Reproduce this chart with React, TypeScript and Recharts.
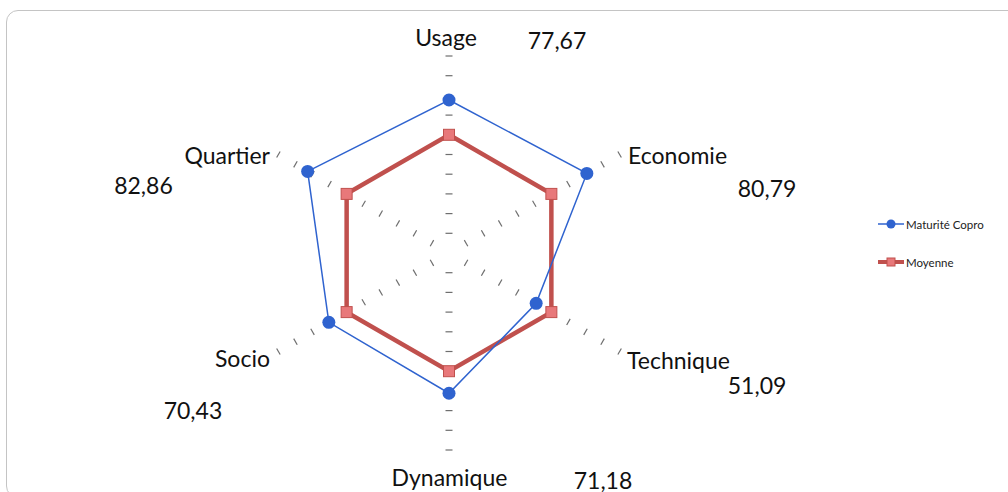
import React from "react";
import {
  RadarChart,
  Radar,
  PolarAngleAxis,
  PolarRadiusAxis,
  Legend,
} from "recharts";

const axes = ["Usage", "Economie", "Technique", "Dynamique", "Socio", "Quartier"];
const maturite = [77.67, 80.79, 51.09, 71.18, 70.43, 82.86];
const moyenne = [60, 60, 60, 60, 60, 60];
const valueLabels = ["77,67", "80,79", "51,09", "71,18", "70,43", "82,86"];

const data = axes.map((axe, i) => ({
  axe,
  maturite: maturite[i],
  moyenne: moyenne[i],
}));

const BLUE = "#2f63cf";
const RED = "#c0504d";
const FONT = "Lato, 'Liberation Sans', sans-serif";

// label offset (from the angle-axis tick point) and value text offset
const labelOffset: [number, number][] = [
  [-3, -11],
  [1.5, 4.5],
  [0.5, 4.5],
  [0.5, 19],
  [-1.5, 2.5],
  [-1.5, 4.5],
];
const valueOffset: [number, number][] = [
  [108, -8],
  [140.5, 37.5],
  [130.5, 29.5],
  [154, 22],
  [-78.5, 54.5],
  [-128, 34.5],
];

const spokeAngles = [90, 30, -30, -90, -150, 150];

function AngleTick(props: any) {
  const { x, y, payload, textAnchor, index } = props;
  const [lx, ly] = labelOffset[index] || [0, 0];
  const [vx, vy] = valueOffset[index] || [0, 0];
  return (
    <g>
      <text
        x={x + lx}
        y={y + ly}
        textAnchor={textAnchor}
        dominantBaseline="central"
        fontFamily={FONT}
        fontSize={23}
        fill="#111"
      >
        {payload.value}
      </text>
      <text
        x={x + vx}
        y={y + vy}
        textAnchor="middle"
        dominantBaseline="central"
        fontFamily={FONT}
        fontSize={23}
        fill="#111"
      >
        {valueLabels[index]}
      </text>
    </g>
  );
}

// one radius axis, but draw its tick on every spoke
function RadiusTick(props: any) {
  const { x, y, payload } = props;
  const r = payload.coordinate;
  if (!r || payload.value === 0) return <g />;
  const cx = x;
  const cy = y + r;
  const h = 3.5;
  return (
    <g>
      {spokeAngles.map((a) => {
        const rad = (a * Math.PI) / 180;
        const px = cx + r * Math.cos(rad);
        const py = cy - r * Math.sin(rad);
        const ux = Math.sin(rad);
        const uy = Math.cos(rad);
        return (
          <line
            key={a}
            x1={px - ux * h}
            y1={py - uy * h}
            x2={px + ux * h}
            y2={py + uy * h}
            stroke="#6e6e6e"
            strokeWidth={1.2}
          />
        );
      })}
    </g>
  );
}

function SquareDot(props: any) {
  const { cx, cy } = props;
  return (
    <rect
      x={cx - 5.5}
      y={cy - 5.5}
      width={11}
      height={11}
      fill="#e8787a"
      stroke={RED}
      strokeWidth={1}
    />
  );
}

function CircleDot(props: any) {
  const { cx, cy } = props;
  return <circle cx={cx} cy={cy} r={6.5} fill={BLUE} stroke="none" />;
}

function LegendContent() {
  return (
    <div style={{ fontFamily: FONT, fontSize: 11.5, color: "#222" }}>
      <div style={{ display: "flex", alignItems: "center", height: 20 }}>
        <svg width={28} height={14}>
          <line x1={0} y1={7} x2={26} y2={7} stroke={BLUE} strokeWidth={1.5} />
          <circle cx={13} cy={7} r={4.5} fill={BLUE} />
        </svg>
        <span>Maturité Copro</span>
      </div>
      <div style={{ display: "flex", alignItems: "center", height: 20, marginTop: 18 }}>
        <svg width={28} height={14}>
          <line x1={0} y1={7} x2={26} y2={7} stroke={RED} strokeWidth={4} />
          <rect x={9} y={3} width={8} height={8} fill="#e8787a" stroke={RED} />
        </svg>
        <span>Moyenne</span>
      </div>
    </div>
  );
}

export default function App() {
  return (
    <div
      style={{
        position: "fixed",
        left: 0,
        top: 0,
        width: 1008,
        height: 492,
        background: "#fff",
        overflow: "hidden",
      }}
    >
      <div
        style={{
          position: "absolute",
          left: 6,
          top: 10,
          width: 1030,
          height: 486,
          border: "1.5px solid #c4c4c4",
          borderRadius: 12,
        }}
      />
      <div style={{ position: "absolute", left: 0, top: 0 }}>
        <RadarChart
          width={1008}
          height={492}
          data={data}
          cx={449}
          cy={253}
          outerRadius={197}
          startAngle={90}
          endAngle={-270}
        >
          <PolarAngleAxis
            dataKey="axe"
            tick={<AngleTick />}
            tickLine={false}
            axisLine={false}
          />
          <Radar
            name="Moyenne"
            dataKey="moyenne"
            stroke={RED}
            strokeWidth={4.5}
            fill="none"
            fillOpacity={0}
            dot={<SquareDot />}
            isAnimationActive={false}
          />
          <Radar
            name="Maturité Copro"
            dataKey="maturite"
            stroke={BLUE}
            strokeWidth={1.5}
            fill="none"
            fillOpacity={0}
            dot={<CircleDot />}
            isAnimationActive={false}
          />
          <PolarRadiusAxis
            angle={90}
            domain={[0, 100]}
            tickCount={11}
            axisLine={false}
            tickLine={false}
            tick={<RadiusTick />}
          />
          <Legend
            layout="vertical"
            verticalAlign="top"
            align="left"
            wrapperStyle={{ position: "absolute", left: 878, top: 214, width: 120 }}
            content={<LegendContent />}
          />
        </RadarChart>
      </div>
    </div>
  );
}
